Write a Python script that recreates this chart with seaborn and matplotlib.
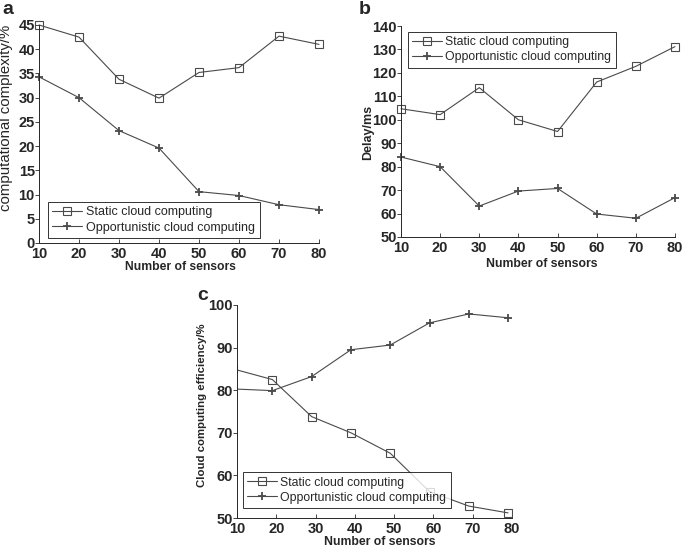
import matplotlib
matplotlib.use("Agg")
import seaborn as sns
import matplotlib.pyplot as plt

# data
sensors = [10, 20, 30, 40, 50, 60, 70, 80]
sensors_c = [9, 19, 29, 39, 49, 59, 69, 79]  # panel c points sit just left of the ticks

complexity_static = [45.0, 42.5, 33.8, 29.9, 35.2, 36.2, 42.7, 41.0]
complexity_opp = [34.3, 30.0, 23.2, 19.6, 10.6, 9.8, 7.9, 6.9]

delay_static = [104.7, 102.2, 113.7, 100.0, 95.0, 116.1, 122.8, 131.2]
delay_opp = [84.1, 80.0, 63.2, 69.6, 70.7, 59.8, 58.0, 66.8]

eff_static = [85.0, 82.5, 73.8, 70.0, 65.2, 56.2, 52.8, 51.2]
eff_opp = [80.3, 79.9, 83.2, 89.5, 90.6, 95.8, 97.9, 97.0]

LABEL_STATIC = "Static cloud computing"
LABEL_OPP = "Opportunistic cloud computing"
LINE_COLOR = "#4a4a4a"

sns.set_style("ticks")
plt.rcParams["font.family"] = ["Liberation Sans", "DejaVu Sans"]

fig = plt.figure(figsize=(6.85, 5.48), dpi=100)
W, H = 685.0, 548.0


def axes_px(left, top, right, bottom):
    ax = fig.add_axes([left / W, 1 - bottom / H, (right - left) / W, (bottom - top) / H])
    ax.px_box = (left, top, right, bottom)
    return ax


def to_axes_frac(ax, px, py):
    left, top, right, bottom = ax.px_box
    return (px - left) / (right - left), (bottom - py) / (bottom - top)


def draw_panel(ax, x, static, opp, ylim, yticks, clip):
    """Draw one panel: two series, open squares vs plus markers."""
    sns.lineplot(x=x, y=static, ax=ax, color=LINE_COLOR, linewidth=0.8,
                 marker="s", markersize=5.5, markerfacecolor="none",
                 markeredgecolor=LINE_COLOR, markeredgewidth=0.8,
                 label=LABEL_STATIC, clip_on=clip)
    sns.lineplot(x=x, y=opp, ax=ax, color=LINE_COLOR, linewidth=0.8,
                 marker="+", markersize=6, markeredgewidth=1.3,
                 markeredgecolor=LINE_COLOR, label=LABEL_OPP, clip_on=clip)
    ax.set_xlim(10, 80)
    ax.set_ylim(*ylim)
    ax.set_xticks(sensors)
    ax.set_yticks(yticks)
    ax.tick_params(axis="x", direction="in", length=3, width=0.6, labelsize=10.5, pad=3)
    ax.tick_params(axis="y", direction="out", length=3, width=0.6, labelsize=10.5, pad=0)
    for lbl in ax.get_xticklabels() + ax.get_yticklabels():
        lbl.set_fontweight("bold")
    sns.despine(ax=ax)
    for sp in ax.spines.values():
        sp.set_linewidth(0.7)


def set_labels(ax, xlabel, xsize, xpos, ylabel, ysize, ypos, yweight):
    ax.set_xlabel(xlabel, fontsize=xsize, fontweight="bold", va="center")
    ax.xaxis.set_label_coords(*to_axes_frac(ax, *xpos))
    ax.set_ylabel(ylabel, fontsize=ysize, fontweight=yweight, va="center")
    ax.yaxis.set_label_coords(*to_axes_frac(ax, *ypos))


def place_legend(ax, loc, dx, dy, size=9):
    """Legend box placed a few pixels inside the axes corner."""
    left, top, right, bottom = ax.px_box
    fx = dx / (right - left)
    fy = dy / (bottom - top)
    anchor = {"lower left": (fx, fy), "upper left": (fx, 1 - fy)}[loc]
    leg = ax.legend(loc=loc, bbox_to_anchor=anchor, fontsize=size,
                    frameon=True, fancybox=False, edgecolor="black",
                    handlelength=2.4, handletextpad=0.3, borderpad=0.35,
                    labelspacing=0.25, borderaxespad=0)
    leg.get_frame().set_linewidth(0.7)


ax_a = axes_px(39, 25, 319, 243)
ax_b = axes_px(401, 26, 675, 237)
ax_c = axes_px(237, 305, 512, 518)

draw_panel(ax_a, sensors, complexity_static, complexity_opp, (0, 45), range(0, 46, 5), False)
set_labels(ax_a, "Number of sensors", 8.7, (180, 267),
           "computational complexity/%", 10.8, (6, 118), "normal")
place_legend(ax_a, "lower left", 9, 5)

draw_panel(ax_b, sensors, delay_static, delay_opp, (50, 140), range(50, 141, 10), False)
set_labels(ax_b, "Number of sensors", 8.8, (542, 264),
           "Delay/ms", 9, (368, 132), "bold")
place_legend(ax_b, "upper left", 7, 6, size=8.8)

draw_panel(ax_c, sensors_c, eff_static, eff_opp, (50, 100), range(50, 101, 10), True)
set_labels(ax_c, "Number of sensors", 8.8, (380, 542),
           "Cloud computing efficiency/%", 8.2, (202, 405), "bold")
place_legend(ax_c, "lower left", 6, 10, size=8.8)

for letter, px, py in [("a", 8, 10), ("b", 365, 10), ("c", 203, 295)]:
    fig.text(px / W, 1 - py / H, letter, fontsize=14, fontweight="bold",
             ha="center", va="center")

fig.savefig("out.png", dpi=100)
